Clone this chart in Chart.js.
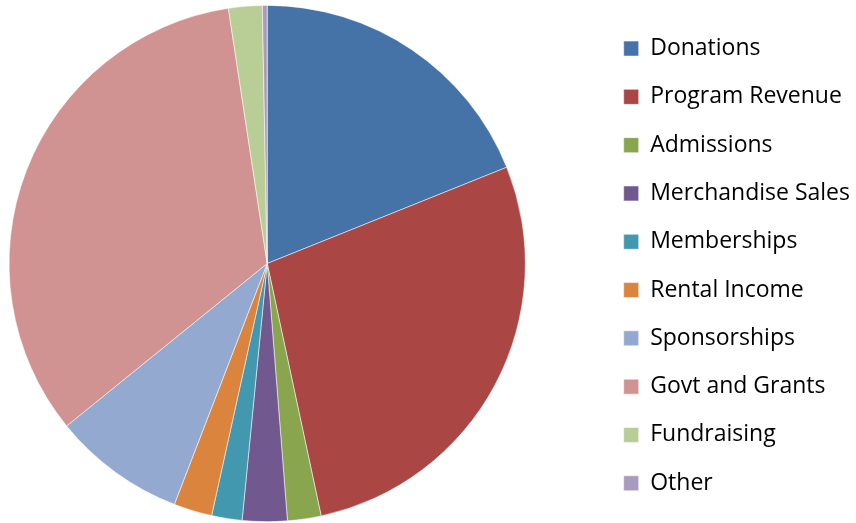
<!DOCTYPE html>
<html>
<head>
<meta charset="utf-8">
<script src="https://cdn.jsdelivr.net/npm/chart.js@4.4.1/dist/chart.umd.min.js"></script>
<style>
  body { margin: 0; background: #fff; }
  #wrap { width: 856px; height: 523px; position: relative; overflow: hidden; }
  /* canvas is a bit wider than the window and shifted left, so the pie sits off-centre like the original */
  #inner { position: absolute; left: -64px; top: 0; width: 924px; height: 523px; }
</style>
</head>
<body>
<div id="wrap"><div id="inner"><canvas id="myChart"></canvas></div></div>
<script>
// revenue share, % of total
var categories = ['Donations', 'Program Revenue', 'Admissions', 'Merchandise Sales', 'Memberships',
                  'Rental Income', 'Sponsorships', 'Govt and Grants', 'Fundraising', 'Other'];
var shares = [18.9, 27.7, 2.1, 2.8, 1.9, 2.4, 8.3, 33.4, 2.1, 0.3];
var colors = ['#4572A7', '#AA4643', '#89A54E', '#71588F', '#4198AF',
              '#DB843D', '#93A9CF', '#D19392', '#B9CD96', '#A99BBD'];

const ctx = document.getElementById('myChart').getContext('2d');
const myChart = new Chart(ctx, {
  type: 'pie',
  data: {
    labels: categories,
    datasets: [{
      data: shares,
      backgroundColor: colors,
      borderColor: 'rgba(255,255,255,0.7)',
      borderWidth: 0.75
    }]
  },
  options: {
    responsive: true,
    maintainAspectRatio: false,
    animation: false,
    layout: {
      padding: { top: 5, bottom: 1, left: 0, right: 0 }
    },
    plugins: {
      tooltip: { enabled: false },
      legend: {
        position: 'right',
        align: 'center',
        // empty title just nudges the items down a couple of px
        title: { display: true, text: ' ', font: { size: 4 }, padding: 0 },
        labels: {
          boxWidth: 15,
          boxHeight: 15,
          padding: 25.3,
          color: '#000',
          font: { family: 'Open Sans', size: 23 }
        }
      }
    }
  }
});
</script>
</body>
</html>
